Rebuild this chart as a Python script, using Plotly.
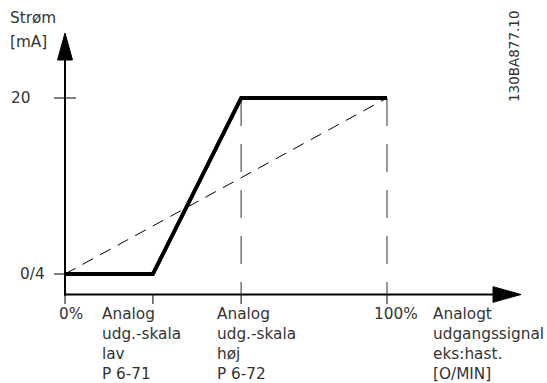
import plotly.graph_objects as go

# ---- data ----
x_points = [0, 27.3, 54.7, 100]          # analog output scale positions (%)
current_ma = [4, 4, 20, 20]               # output current (mA)
linear_x = [0, 100]
linear_y = [4, 20]
y_tick_vals = [20, 4]
y_tick_text = ["20", "0/4"]
x_tick_vals = [0, 27.3, 54.7, 100]
x_tick_text = ["0%", "Analog<br>udg.-skala<br>lav<br>P 6-71",
               "Analog<br>udg.-skala<br>høj<br>P 6-72", "100%"]
x_axis_title = "Analogt<br>udgangssignal<br>eks:hast.<br>[O/MIN]"
y_axis_title = ["Strøm", "[mA]"]
ref_code = "130BA877.10"

W, H = 547, 383
# pixel <-> data mapping (layout only)
X0PX, XSC = 65.0, 3.22
Y4PX, YSC = 274.0, 11.0
def xd(px): return (px - X0PX) / XSC
def yd(py): return 4 + (Y4PX - py) / YSC

FONT = "DejaVu Sans"
TXT = "#333333"
FS = 15.3

fig = go.Figure()
fig.add_trace(go.Scatter(x=linear_x, y=linear_y, mode="lines",
                         line=dict(color="black", width=1, dash="12px,8px"),
                         hoverinfo="skip", showlegend=False))
fig.add_trace(go.Scatter(x=x_points, y=current_ma, mode="lines",
                         line=dict(color="black", width=4),
                         hoverinfo="skip", showlegend=False))

shapes = []
AXY = 294.5
# vertical dashed guides
for xv in x_tick_vals[2:]:
    shapes.append(dict(type="line", x0=xv, x1=xv, y0=20, y1=yd(AXY),
                       line=dict(color="#555555", width=1.2, dash="28px,18px"), layer="below"))
# axes lines
shapes.append(dict(type="line", x0=0, x1=0, y0=yd(AXY + 1), y1=yd(55),
                   line=dict(color="black", width=2)))
shapes.append(dict(type="line", x0=xd(64), x1=xd(498), y0=yd(AXY), y1=yd(AXY),
                   line=dict(color="black", width=2)))
# arrowheads
shapes.append(dict(type="path",
                   path=f"M {xd(65)} {yd(33)} L {xd(57.5)} {yd(60)} L {xd(72.5)} {yd(60)} Z",
                   fillcolor="black", line=dict(color="black", width=1)))
shapes.append(dict(type="path",
                   path=f"M {xd(521)} {yd(AXY)} L {xd(493)} {yd(AXY-7.8)} L {xd(493)} {yd(AXY+7.8)} Z",
                   fillcolor="black", line=dict(color="black", width=1)))
# y ticks
shapes.append(dict(type="line", x0=xd(54), x1=xd(76), y0=20, y1=20,
                   line=dict(color="black", width=1)))
shapes.append(dict(type="line", x0=xd(54), x1=0, y0=4, y1=4,
                   line=dict(color="black", width=1)))
# x ticks
for xv in x_tick_vals:
    shapes.append(dict(type="line", x0=xv, x1=xv, y0=yd(AXY), y1=yd(304),
                       line=dict(color="black", width=1)))

annotations = []
y_label_left = [9, 18]
for yv, t, lx in zip(y_tick_vals, y_tick_text, y_label_left):
    annotations.append(dict(x=xd(lx), y=yv, text=t, showarrow=False, xanchor="left",
                            yanchor="middle", font=dict(family=FONT, size=FS, color=TXT)))
x_label_left = [57, 100, 215, 372]
LBL_TOP = 303
for xv, t, lx in zip(x_tick_vals, x_tick_text, x_label_left):
    annotations.append(dict(x=xd(lx), y=yd(LBL_TOP), text=t, showarrow=False, xanchor="left",
                            yanchor="top", align="left",
                            font=dict(family=FONT, size=FS, color=TXT)))
annotations.append(dict(x=xd(431), y=yd(LBL_TOP), text=x_axis_title, showarrow=False,
                        xanchor="left", yanchor="top", align="left",
                        font=dict(family=FONT, size=FS, color=TXT)))
annotations.append(dict(x=xd(8), y=yd(18), text=y_axis_title[0], showarrow=False,
                        xanchor="left", yanchor="middle",
                        font=dict(family=FONT, size=FS, color=TXT)))
annotations.append(dict(x=xd(8), y=yd(42), text=y_axis_title[1], showarrow=False,
                        xanchor="left", yanchor="middle",
                        font=dict(family=FONT, size=FS, color=TXT)))
annotations.append(dict(x=xd(514), y=yd(56), text=ref_code, showarrow=False,
                        textangle=-90, xanchor="center", yanchor="middle",
                        font=dict(family=FONT, size=13.5, color=TXT)))

fig.update_layout(
    width=W, height=H, margin=dict(l=0, r=0, t=0, b=0),
    paper_bgcolor="white", plot_bgcolor="white",
    xaxis=dict(visible=False, range=[xd(0), xd(W)], fixedrange=True),
    yaxis=dict(visible=False, range=[yd(H), yd(0)], fixedrange=True),
    shapes=shapes, annotations=annotations, showlegend=False,
)
fig.write_html("out.html", config={"displayModeBar": False},
               post_script="document.body.style.margin='0';document.body.style.overflow='hidden';")
